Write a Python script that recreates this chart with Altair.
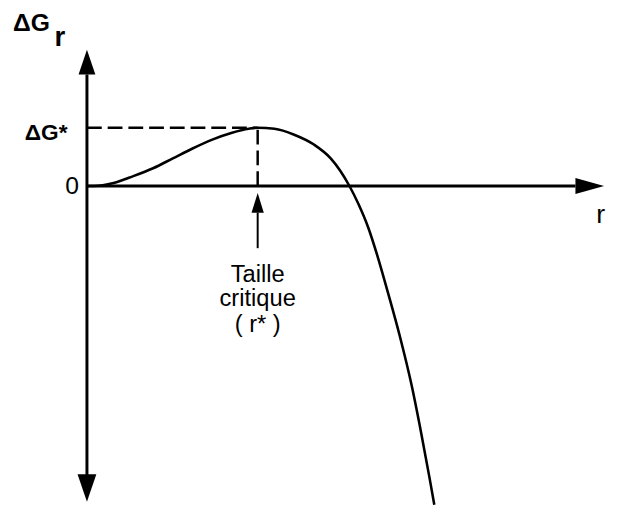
import altair as alt
import pandas as pd

# ---- curve ΔG_r(r) (r from origin, ΔG up positive) ----
curve_r = [0, 7, 27, 47, 67, 87, 107, 127, 147, 164, 173, 190, 210, 230, 247,
           257, 266, 275, 285, 295, 305, 317, 329, 339, 347, 352]
curve_g = [0, 0, 3, 10, 18, 28, 38, 47, 54, 58, 59, 58, 52, 42, 28,
           15, 0, -18, -42, -73, -108, -152, -202, -252, -295, -323]

# critical point
r_star = [173]
g_star = [59]

# axes extents (in the same units)
y_axis_top, y_axis_bottom = 113, -293
y_arrow_up_g, y_arrow_down_g = 125.5, -306
x_axis_end, x_arrow_r = 495, 509.5

# pointer to r*
pointer_tip_g, pointer_top_g, pointer_bottom_g = -17, -27, -63

# labels
caption_lines = ["Taille", "critique", "( r* )"]
caption_g = [-97, -122, -148]

curve_df = pd.DataFrame({"r": curve_r, "g": curve_g})

xs = alt.Scale(domain=[-80, 529], nice=False, zero=False)
ys = alt.Scale(domain=[-330, 177], nice=False, zero=False)


def X(f="r"):
    return alt.X(f"{f}:Q", scale=xs, axis=None)


def Y(f="g"):
    return alt.Y(f"{f}:Q", scale=ys, axis=None)


# axis lines
axes_df = pd.DataFrame({
    "r": [0, 0], "g": [y_axis_top, 0],
    "r2": [0, x_axis_end], "g2": [y_axis_bottom, 0],
})
axes = alt.Chart(axes_df).mark_rule(color="black", strokeWidth=3).encode(
    x=X(), y=Y(), x2="r2:Q", y2="g2:Q")

# dashed guides to the maximum
dash_df = pd.DataFrame({
    "r": [0, r_star[0]], "g": [g_star[0], 0],
    "r2": [r_star[0], r_star[0]], "g2": [g_star[0], g_star[0]],
})
dashes = alt.Chart(dash_df).mark_rule(
    color="black", strokeWidth=2.5, strokeDash=[15, 6]).encode(
    x=X(), y=Y(), x2="r2:Q", y2="g2:Q")

# pointer shaft
shaft_df = pd.DataFrame({"r": r_star, "g": [pointer_top_g], "g2": [pointer_bottom_g]})
shaft = alt.Chart(shaft_df).mark_rule(color="black", strokeWidth=2).encode(
    x=X(), y=Y(), y2="g2:Q")

# curve
curve = alt.Chart(curve_df).mark_line(
    color="black", strokeWidth=2.6, interpolate="monotone").encode(x=X(), y=Y())

# arrowheads
UP = "M0,-1L0.68,1L-0.68,1Z"
DOWN = "M0,1L0.68,-1L-0.68,-1Z"
RIGHT = "M1,0L-1,0.56L-1,-0.56Z"

up_head = alt.Chart(pd.DataFrame({"r": [0], "g": [y_arrow_up_g]})).mark_point(
    shape=UP, size=625, filled=True, opacity=1, color="black", strokeWidth=0
).encode(x=X(), y=Y())
down_head = alt.Chart(pd.DataFrame({"r": [0], "g": [y_arrow_down_g]})).mark_point(
    shape=DOWN, size=784, filled=True, opacity=1, color="black", strokeWidth=0
).encode(x=X(), y=Y())
right_head = alt.Chart(pd.DataFrame({"r": [x_arrow_r], "g": [0]})).mark_point(
    shape=RIGHT, size=841, filled=True, opacity=1, color="black", strokeWidth=0
).encode(x=X(), y=Y())
ptr_head = alt.Chart(pd.DataFrame({"r": r_star, "g": [pointer_tip_g]})).mark_point(
    shape="M0,-1L0.62,1L-0.62,1Z", size=400, filled=True, opacity=1,
    color="black", strokeWidth=0
).encode(x=X(), y=Y())

FONT = "Liberation Sans"

# y axis title ΔG_r
dg_title = alt.Chart(pd.DataFrame({"r": [-75], "g": [157], "t": ["ΔG"]})).mark_text(
    font=FONT, fontSize=25, fontWeight="bold", align="left", baseline="alphabetic",
    color="black").encode(x=X(), y=Y(), text="t:N")
dg_sub = alt.Chart(pd.DataFrame({"r": [-33], "g": [142], "t": ["r"]})).mark_text(
    font=FONT, fontSize=28, fontWeight="bold", align="left", baseline="alphabetic",
    color="black").encode(x=X(), y=Y(), text="t:N")

# ΔG* label
dg_star = alt.Chart(pd.DataFrame({"r": [-63], "g": [47], "t": ["ΔG*"]})).mark_text(
    font=FONT, fontSize=23, fontWeight="bold", align="left", baseline="alphabetic",
    color="black").encode(x=X(), y=Y(), text="t:N")

# zero label
zero = alt.Chart(pd.DataFrame({"r": [-8], "g": [-8], "t": ["0"]})).mark_text(
    font=FONT, fontSize=25, align="right", baseline="alphabetic",
    color="black").encode(x=X(), y=Y(), text="t:N")

# x axis title r
r_lab = alt.Chart(pd.DataFrame({"r": [516], "g": [-37], "t": ["r"]})).mark_text(
    font=FONT, fontSize=27, align="left", baseline="alphabetic",
    color="black").encode(x=X(), y=Y(), text="t:N")

# caption
cap = alt.Chart(pd.DataFrame({"r": r_star * 3, "g": caption_g, "t": caption_lines})).mark_text(
    font=FONT, fontSize=24, align="center", baseline="alphabetic",
    color="black").encode(x=X(), y=Y(), text="t:N")

chart = alt.layer(
    dashes, axes, shaft, curve, up_head, down_head, right_head, ptr_head,
    dg_title, dg_sub, dg_star, zero, r_lab, cap
).properties(
    width=609, height=507,
    autosize=alt.AutoSizeParams(type="none"),
    padding=0,
    background="white",
).configure_view(strokeWidth=0, stroke="transparent")

chart.save("out.html", embed_options={"renderer": "svg", "actions": False})
